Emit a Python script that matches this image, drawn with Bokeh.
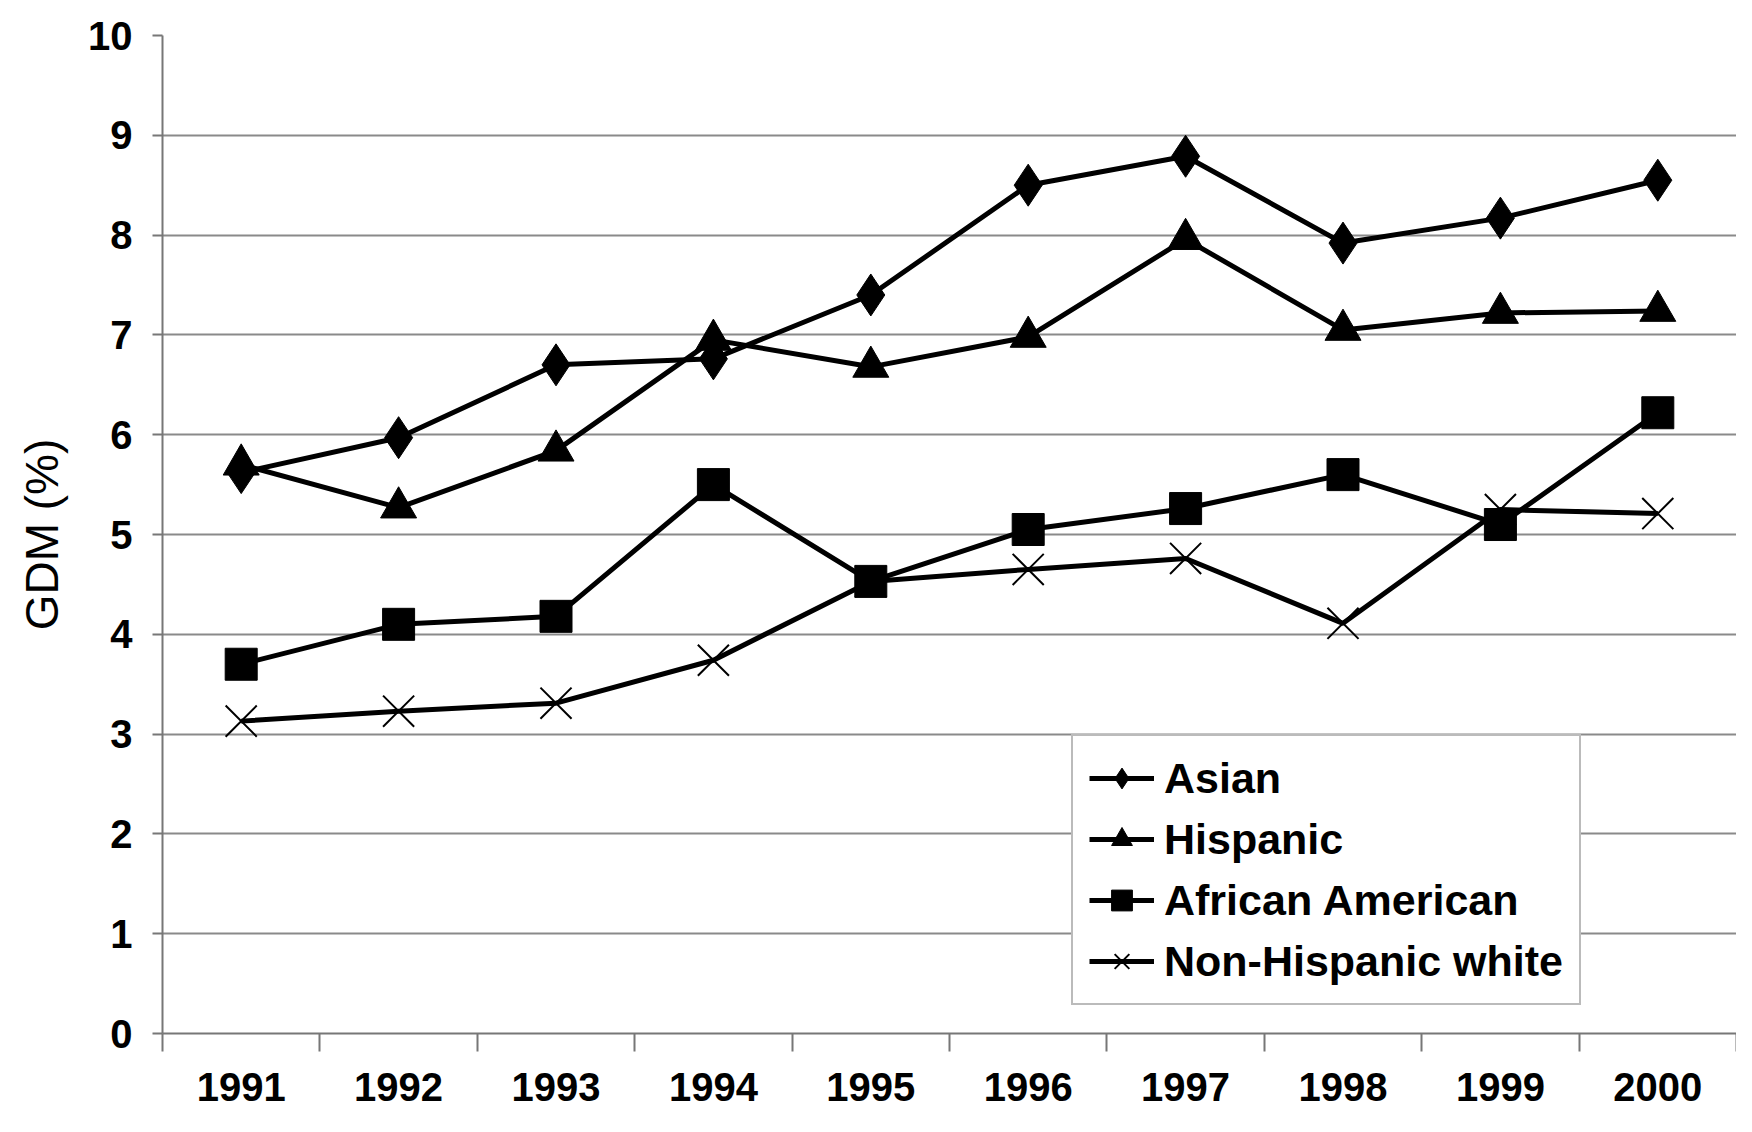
from bokeh.plotting import figure
from bokeh.models import (Range1d, FixedTicker, Legend, LegendItem)
from bokeh.embed import file_html
from bokeh.resources import INLINE

years = [1991, 1992, 1993, 1994, 1995, 1996, 1997, 1998, 1999, 2000]
year_labels = ["1991", "1992", "1993", "1994", "1995", "1996", "1997", "1998", "1999", "2000"]
asian = [5.62, 5.97, 6.70, 6.76, 7.40, 8.50, 8.79, 7.92, 8.17, 8.55]
hispanic = [5.70, 5.27, 5.84, 6.95, 6.68, 6.98, 7.96, 7.05, 7.22, 7.24]
african_american = [3.70, 4.10, 4.18, 5.50, 4.53, 5.05, 5.26, 5.60, 5.10, 6.22]
nh_white = [3.13, 3.23, 3.31, 3.74, 4.53, 4.65, 4.76, 4.11, 5.25, 5.21]
y_ticks = [0, 1, 2, 3, 4, 5, 6, 7, 8, 9, 10]

FONT = "Liberation Sans"

p = figure(width=1736, height=1116, output_backend="svg", toolbar_location=None,
           x_range=Range1d(years[0] - 0.5, years[-1] + 0.5),
           y_range=Range1d(y_ticks[0], y_ticks[-1]),
           min_border_left=162, min_border_right=0, min_border_top=35, min_border_bottom=83)
p.outline_line_color = None
p.xgrid.visible = False
p.ygrid.ticker = FixedTicker(ticks=y_ticks[:-1])
p.ygrid.grid_line_color = "#8a8a8a"
p.ygrid.grid_line_width = 2

# y axis
p.yaxis.ticker = FixedTicker(ticks=y_ticks)
p.yaxis.axis_line_color = "#777777"
p.yaxis.axis_line_width = 2
p.yaxis.major_tick_out = 10
p.yaxis.major_tick_in = 0
p.yaxis.major_tick_line_color = "#777777"
p.yaxis.major_tick_line_width = 2
p.yaxis.minor_tick_line_color = None
p.yaxis.major_label_standoff = 20
p.yaxis.major_label_text_font = FONT
p.yaxis.major_label_text_font_style = "bold"
p.yaxis.major_label_text_font_size = "40px"
p.yaxis.major_label_text_color = "black"
p.yaxis.axis_label = "GDM (%)"
p.yaxis.axis_label_text_font = FONT
p.yaxis.axis_label_text_font_style = "normal"
p.yaxis.axis_label_text_font_size = "46px"
p.yaxis.axis_label_text_color = "black"
p.yaxis.axis_label_standoff = 17

# x axis
p.xaxis.ticker = FixedTicker(ticks=years, minor_ticks=[y - 0.5 for y in years] + [years[-1] + 0.5])
p.xaxis.major_label_overrides = {y: lab for y, lab in zip(years, year_labels)}
p.xaxis.axis_line_color = "#777777"
p.xaxis.axis_line_width = 2
p.xaxis.major_tick_out = 0
p.xaxis.major_tick_in = 0
p.xaxis.minor_tick_out = 18
p.xaxis.minor_tick_in = 0
p.xaxis.minor_tick_line_color = "#777777"
p.xaxis.minor_tick_line_width = 2
p.xaxis.major_label_standoff = 21
p.xaxis.major_label_text_font = FONT
p.xaxis.major_label_text_font_style = "bold"
p.xaxis.major_label_text_font_size = "40px"
p.xaxis.major_label_text_color = "black"

LW = 5
series = [
    ("Asian", asian, "diamond", 42, 1),
    ("Hispanic", hispanic, "triangle", 36, 1),
    ("African American", african_american, "square", 32, 1),
    ("Non-Hispanic white", nh_white, "x", 44, 2),
]
items = []
for name, vals, marker, size, mlw in series:
    l = p.line(years, vals, line_color="black", line_width=LW)
    m = p.scatter(years, vals, marker=marker, size=size, fill_color="black",
                  line_color="black", line_width=mlw)
    items.append(LegendItem(label=name, renderers=[l, m]))

legend = Legend(items=items, location=(909, 28))
legend.label_text_font = FONT
legend.label_text_font_style = "bold"
legend.label_text_font_size = "43px"
legend.label_text_color = "black"
legend.glyph_width = 65
legend.glyph_height = 52
legend.label_height = 52
legend.label_width = 380
legend.label_standoff = 10
legend.spacing = 9
legend.padding = 16
legend.margin = 0
legend.border_line_color = "#777777"
legend.border_line_width = 2
legend.background_fill_color = "white"
legend.background_fill_alpha = 1
p.add_layout(legend, "center")

open("out.html", "w").write(file_html(p, INLINE))
